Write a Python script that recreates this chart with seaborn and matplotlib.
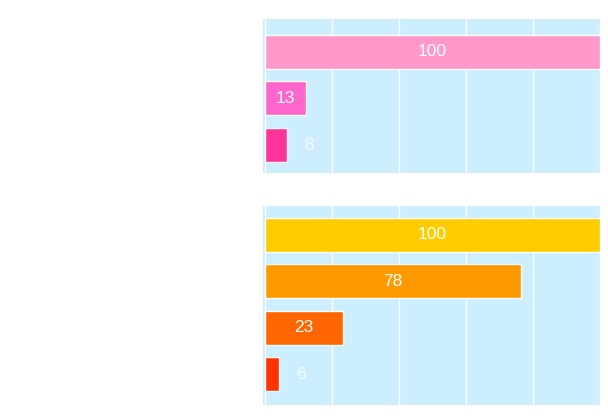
import matplotlib
matplotlib.use("Agg")
import matplotlib.pyplot as plt
import seaborn as sns
import pandas as pd

# top group: printed values and drawn bar lengths
top_labels = ["a1", "a2", "a3"]
top_values = [100, 13, 8]
top_lengths = [100, 12.2, 6.6]
top_colors = ["#ff99cc", "#ff66cc", "#ff3399"]

# bottom group
bottom_labels = ["b1", "b2", "b3", "b4"]
bottom_values = [100, 78, 23, 6]
bottom_lengths = [100, 76.4, 23.3, 4.2]
bottom_colors = ["#ffcc00", "#ff9900", "#ff6600", "#ff3300"]

BG = "#cceeff"

sns.set_theme(style="white")
plt.rcParams['font.family'] = ['Liberation Sans', 'DejaVu Sans']

fig = plt.figure(figsize=(6.08, 4.18), dpi=100)
W, H = 608.0, 418.0
ax_top = fig.add_axes([263 / W, (H - 173) / H, 337 / W, 154 / H])
ax_bot = fig.add_axes([263 / W, (H - 405) / H, 337 / W, 199 / H])


def draw(ax, labels, values, lengths, colors, pad_top, pad_bot):
    df = pd.DataFrame({"name": labels, "length": lengths})
    sns.barplot(data=df, x="length", y="name", hue="name", palette=colors,
                legend=False, orient="h", width=0.73, ax=ax,
                edgecolor="white", linewidth=1.0, saturation=1)
    ax.set_facecolor(BG)
    ax.set_xlim(-0.5, 100)
    n = len(labels)
    ax.set_ylim(n - 1 + pad_bot, -pad_top)
    ax.set_xticks([0, 20, 40, 60, 80, 100])
    ax.xaxis.grid(True, color="white", linewidth=1.0)
    ax.set_axisbelow(True)
    ax.tick_params(left=False, bottom=False, labelleft=False, labelbottom=False)
    ax.set_xlabel("")
    ax.set_ylabel("")
    for s in ax.spines.values():
        s.set_visible(False)
    for i, (v, L) in enumerate(zip(values, lengths)):
        if L >= 10:
            ax.text(L / 2, i, str(v), color="white", ha="center", va="center",
                    fontsize=12.5)
        else:
            ax.text(L + 6.5, i, str(v), color="#f4fbff", ha="center", va="center",
                    fontsize=12.5)


draw(ax_top, top_labels, top_values, top_lengths, top_colors, 0.70, 0.60)
draw(ax_bot, bottom_labels, bottom_values, bottom_lengths, bottom_colors, 0.62, 0.66)

fig.savefig("out.png", dpi=100)
